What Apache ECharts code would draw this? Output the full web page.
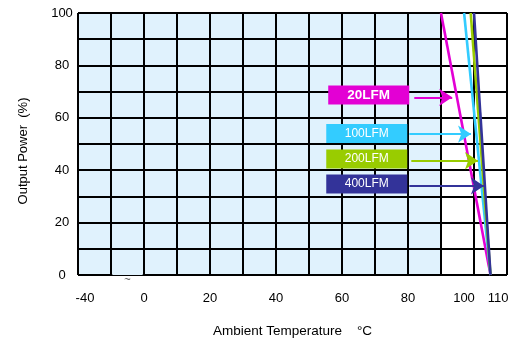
<!DOCTYPE html>
<html><head><meta charset="utf-8">
<script src="https://cdn.jsdelivr.net/npm/echarts@6/dist/echarts.min.js"></script>
<style>html,body{margin:0;padding:0;background:#fff}#c{width:515px;height:339px}</style>
</head><body><div id="c"></div>
<script>
// ---- data ----
const seriesNames = ['20LFM', '100LFM', '200LFM', '400LFM'];
const fullPowerTemp = [90, 97, 99, 100];    // °C where derating begins (100 %)
const zeroPowerTemp = [105, 105, 105, 105]; // °C where output reaches 0 %
const powerLevels = [100, 0];               // % at the two ends
const xTickValues = [-20, 0, 20, 40, 60, 80, 100, 110];
const xTickLabels = ['-40', '0', '20', '40', '60', '80', '100', '110'];
const yTickValues = [0, 20, 40, 60, 80, 100];
const shadedRange = [-20, 90];

// ---- styling / annotation layout ----
const colors = ['#e300d4', '#33ccff', '#99cc00', '#333399'];
const boxPos = [[68.1, 68.7], [67.5, 54.0], [67.5, 44.3], [67.5, 34.7]];
const arrowFrom = [[81.9, 67.8], [80.4, 53.8], [81.0, 43.6], [80.4, 34.0]];
const arrowToX = [93.4, 99.1, 101.2, 103.0];
const labelShift = {'-40': 14, '100': -20, '110': -18};

const font = 'Liberation Sans, Arial, sans-serif';
const chart = echarts.init(document.getElementById('c'));

const lineSeries = seriesNames.map((n, i) => ({
  name: n, type: 'line', z: 3, symbol: 'none', silent: true,
  data: [[fullPowerTemp[i], powerLevels[0]], [zeroPowerTemp[i], powerLevels[1]]],
  lineStyle: {color: colors[i], width: 2.6},
  markPoint: {
    silent: true, symbol: 'rect', symbolSize: [81, 19],
    itemStyle: {color: colors[i]},
    label: {show: true, position: 'inside', color: '#fff', fontFamily: font,
      fontSize: i === 0 ? 13.5 : 12, fontWeight: i === 0 ? 'bold' : 'normal', formatter: n},
    data: [{coord: boxPos[i]}]
  },
  markLine: {
    silent: true, symbol: ['none', 'arrow'], symbolSize: 13,
    label: {show: false},
    lineStyle: {color: colors[i], width: 2, type: 'solid'},
    data: [[{coord: arrowFrom[i]}, {coord: [arrowToX[i], arrowFrom[i][1]]}]]
  }
}));

const option = {
  animation: false,
  grid: {left: 78, right: 8, top: 13, bottom: 64, outerBoundsMode: 'none', containLabel: false},
  xAxis: {
    type: 'value', min: -20, max: 110, interval: 10,
    name: 'Ambient Temperature    °C', nameLocation: 'middle', nameGap: 49,
    nameTextStyle: {color: '#000', fontFamily: font, fontSize: 13.5},
    axisLine: {show: false}, axisTick: {show: false},
    splitLine: {show: true, lineStyle: {color: '#000', width: 2}},
    axisLabel: {
      color: '#000', fontFamily: font, fontSize: 13, margin: 17,
      formatter: v => {
        const k = xTickValues.indexOf(v);
        if (k < 0) return '';
        const t = xTickLabels[k];
        if (labelShift[t] > 0) return '{r|' + t + '}';
        if (labelShift[t] < 0) return '{l' + (-labelShift[t]) + '|' + t + '}';
        return t;
      },
      rich: {
        r: {padding: [0, 0, 0, 14], fontSize: 13, fontFamily: font, color: '#000'},
        l20: {padding: [0, 20, 0, 0], fontSize: 13, fontFamily: font, color: '#000'},
        l18: {padding: [0, 18, 0, 0], fontSize: 13, fontFamily: font, color: '#000'}
      }
    }
  },
  yAxis: {
    type: 'value', min: 0, max: 100, interval: 10,
    name: 'Output Power  (%)', nameLocation: 'middle', nameGap: 48,
    nameTextStyle: {color: '#000', fontFamily: font, fontSize: 13, padding: [0, 14, 0, 0]},
    axisLine: {show: false}, axisTick: {show: false},
    splitLine: {show: true, lineStyle: {color: '#000', width: 2}},
    axisLabel: {
      color: '#000', fontFamily: font, fontSize: 13, margin: 16, align: 'center',
      padding: [3, 0, 0, 0],
      formatter: v => yTickValues.indexOf(v) >= 0 ? String(v) : ''
    }
  },
  series: [
    {
      name: 'bg', type: 'line', data: [], z: -1, silent: true,
      markArea: {silent: true, z: -1, itemStyle: {color: '#e0f2fd'},
        data: [[{coord: [shadedRange[0], 0]}, {coord: [shadedRange[1], 100]}]]}
    },
    {
      name: 'break', type: 'line', data: [], z: 6, silent: true, clip: false,
      markArea: {silent: true, itemStyle: {color: '#e0f2fd'},
        data: [[{coord: [-9.6, -1]}, {coord: [-0.4, 0.6]}]]},
      markPoint: {silent: true, symbol: 'circle', symbolSize: 1,
        itemStyle: {color: 'rgba(0,0,0,0)'},
        label: {show: true, position: 'inside', offset: [0, 5], formatter: '~',
          color: '#444', fontSize: 11, fontFamily: font},
        data: [{coord: [-5, 0]}]}
    },
    ...lineSeries
  ]
};
chart.setOption(option);
</script></body></html>
